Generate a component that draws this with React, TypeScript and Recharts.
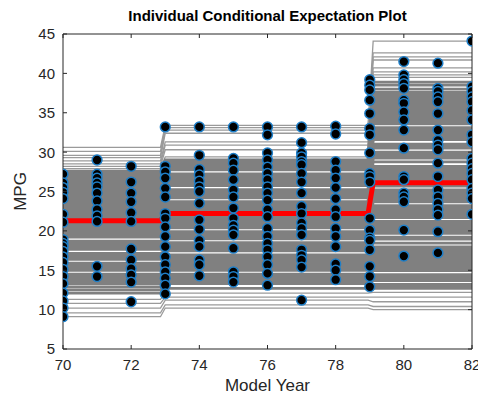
import React from 'react';
import { ComposedChart, Line, Scatter, XAxis, YAxis, ReferenceLine } from 'recharts';

// ICE evaluation grid (Model Year) and which model-year segment each grid point falls in
const iceGridX = [70, 72.86, 73.0, 78.95, 79.1, 82];
const gridSegment = [0, 0, 1, 1, 2, 2];

// ICE curve levels per observation, for the three flat segments
const iceBefore73 = [
  30.6, 30.1, 29.6, 29.3, 28.9, 28.5, 28.2, 27.9, 27.6, 27.45,
  27.3, 27.15, 27.0, 26.85, 26.7, 26.55, 26.4, 26.25, 26.1, 25.95,
  25.8, 25.65, 25.5, 25.35, 25.2, 25.05, 24.9, 24.75, 24.6, 24.45,
  24.3, 24.15, 24.0, 23.85, 23.7, 23.55, 23.4, 23.25, 23.1, 22.95,
  22.8, 22.65, 22.5, 22.35, 22.2, 22.05, 21.9, 21.75, 21.6, 21.45,
  21.3, 21.15, 21.0, 20.85, 20.7, 20.55, 20.4, 20.25, 20.1, 19.95,
  19.8, 19.65, 19.5, 19.35, 19.2, 18.7, 18.55, 18.4, 18.25, 18.1,
  17.95, 17.8, 17.65, 17.15, 17.0, 16.85, 16.7, 16.55, 16.4, 15.9,
  15.75, 15.6, 15.45, 15.3, 15.15, 15.0, 14.5, 14.35, 14.2, 14.05,
  13.9, 13.75, 13.6, 13.45, 13.3, 12.9, 12.5, 12.1, 11.3, 10.8,
  10.2, 9.6, 9.1,
];
const ice73to79 = [
  33.4, 33.1, 32.8, 32.4, 31.3, 30.9, 30.3, 29.4, 29.0, 28.8,
  28.65, 28.5, 28.35, 28.2, 28.05, 27.9, 27.75, 27.25, 27.1, 26.95,
  26.8, 26.65, 26.5, 26.35, 26.2, 26.05, 25.9, 25.75, 25.25, 25.1,
  24.95, 24.8, 24.65, 24.5, 24.35, 24.2, 23.7, 23.55, 23.4, 23.25,
  23.1, 22.95, 22.8, 22.65, 22.5, 22.35, 22.2, 22.05, 21.9, 21.75,
  21.6, 21.45, 21.3, 21.15, 21.0, 20.85, 20.7, 20.55, 20.4, 19.9,
  19.75, 19.6, 19.45, 19.3, 19.15, 19.0, 18.5, 18.35, 18.2, 18.05,
  17.9, 17.75, 17.6, 17.45, 16.95, 16.8, 16.65, 16.5, 16.35, 16.2,
  16.05, 15.9, 15.75, 15.6, 15.45, 15.3, 15.15, 15.0, 14.5, 14.35,
  14.2, 14.05, 13.9, 13.75, 13.6, 13.45, 13.3, 12.7, 12.1, 11.6,
  11.2, 10.6, 10.2,
];
const iceAfter79 = [
  44.1, 42.6, 42.1, 41.7, 40.7, 40.2, 39.8, 39.5, 38.9, 38.5,
  38.0, 37.6, 37.35, 37.1, 36.85, 36.6, 36.35, 36.1, 35.85, 35.6,
  35.35, 35.1, 34.85, 34.6, 34.35, 34.1, 33.85, 33.6, 33.1, 32.85,
  32.6, 32.35, 32.1, 31.85, 31.6, 31.0, 30.75, 30.5, 30.0, 29.75,
  29.5, 29.25, 28.75, 28.2, 27.95, 27.7, 27.45, 27.2, 26.95, 26.7,
  26.45, 26.2, 25.95, 25.7, 25.2, 24.95, 24.7, 24.45, 24.2, 23.95,
  23.7, 23.2, 22.95, 22.7, 22.45, 22.2, 21.95, 21.7, 21.2, 20.95,
  20.7, 20.45, 20.2, 19.95, 19.7, 19.2, 18.95, 18.45, 17.95, 17.7,
  17.45, 17.2, 16.95, 16.7, 16.45, 16.2, 15.95, 15.7, 15.45, 15.2,
  14.95, 14.45, 14.2, 13.95, 13.7, 13.2, 12.95, 12.7, 12.2, 11.6,
  11.0, 10.4, 10.0,
];
// Partial dependence (average of ICE curves) per segment
const averageIce = [21.3, 22.2, 26.1];

// Observations (MPG by model year)
const obsYears = [70, 71, 72, 73, 74, 75, 76, 77, 78, 79, 80, 81, 82];
const obsMpg = [
  [27.2, 26.1, 25.5, 24.9, 24.1, 22.1, 21.1, 18.9, 18.4, 18.0, 17.4, 16.7, 16.0, 15.1, 14.2, 13.3, 12.1, 11.1, 10.2, 9.1],
  [29.0, 27.2, 26.7, 26.1, 25.6, 24.8, 23.8, 22.7, 21.9, 21.2, 15.5, 14.2],
  [28.2, 26.2, 24.8, 23.7, 22.3, 21.2, 17.7, 16.3, 15.2, 14.4, 13.5, 11.0],
  [33.2, 28.2, 27.5, 26.7, 25.4, 24.3, 22.2, 21.6, 20.5, 19.3, 18.0, 16.7, 15.7, 14.8, 14.0, 13.1, 12.0],
  [33.2, 29.6, 27.8, 27.1, 26.3, 25.6, 25.0, 23.5, 21.4, 20.2, 18.8, 18.0, 16.3, 15.7, 14.3],
  [33.2, 29.2, 28.6, 27.7, 26.5, 25.2, 24.3, 22.9, 21.6, 20.7, 20.1, 19.5, 17.8, 14.8, 14.2, 13.5],
  [33.2, 32.2, 29.9, 29.0, 28.1, 27.3, 26.5, 25.6, 24.8, 23.9, 22.7, 21.8, 20.3, 19.3, 18.4, 17.6, 16.7, 15.7, 14.6, 13.1],
  [33.2, 31.2, 29.9, 29.4, 28.8, 28.4, 27.3, 26.2, 24.8, 23.1, 22.2, 21.0, 20.3, 19.5, 17.6, 16.9, 16.3, 15.4, 11.2],
  [33.3, 32.3, 28.8, 27.7, 26.7, 25.5, 24.1, 22.7, 21.8, 20.3, 19.3, 18.0, 15.8, 15.0, 13.8],
  [39.2, 38.5, 37.9, 36.6, 34.9, 33.0, 32.2, 29.9, 27.3, 26.9, 26.2, 21.6, 20.1, 19.1, 18.8, 17.6, 15.5, 14.2, 12.9],
  [41.5, 39.8, 39.2, 38.7, 38.1, 36.6, 36.2, 35.1, 34.1, 32.8, 30.5, 26.9, 26.5, 24.8, 24.3, 23.7, 20.1, 16.8],
  [41.3, 38.1, 37.7, 37.0, 36.4, 34.9, 32.8, 31.5, 30.9, 30.3, 28.6, 26.9, 25.2, 24.3, 23.5, 22.7, 22.0, 19.9, 17.2],
  [44.1, 38.3, 37.7, 37.0, 36.4, 35.3, 34.1, 32.2, 31.3, 29.2, 28.6, 27.9, 27.3, 26.5, 25.4, 24.8, 24.1, 22.1],
];

const xTicks = [70, 72, 74, 76, 78, 80, 82];
const yTicks = [5, 10, 15, 20, 25, 30, 35, 40, 45];

const title = 'Individual Conditional Expectation Plot';
const xLabel = 'Model Year';
const yLabel = 'MPG';

// ---------- layout ----------
const W = 478;
const H = 386;
const MARGIN = { top: 26, right: 14, bottom: 0, left: 0 };
const Y_AXIS_W = 55;
const X_AXIS_H = 45;
const PLOT_LEFT = MARGIN.left + Y_AXIS_W;
const PLOT_RIGHT = W - MARGIN.right;
const PLOT_TOP = MARGIN.top;
const PLOT_BOTTOM = H - MARGIN.bottom - X_AXIS_H;
const AXIS_COLOR = '#262626';
const FONT = '"Liberation Sans", Arial, Helvetica, sans-serif';
const TICK_FONT = 15;
const LABEL_FONT = 17;
const TICK_LEN = 4;
const SPARSE_TOP = 8;
const SPARSE_BOTTOM = 5;

const segLevels = [iceBefore73, ice73to79, iceAfter79];
const lineKeys = iceBefore73.map((_, i) => `ice${i}`);

const iceRows = iceGridX.map((x, j) => {
  const seg = gridSegment[j];
  const row: Record<string, number> = { x, avg: averageIce[seg] };
  lineKeys.forEach((k, i) => {
    row[k] = segLevels[seg][i];
  });
  return row;
});

const obsPoints = obsYears.flatMap((year, i) => obsMpg[i].map((mpg) => ({ x: year, y: mpg })));

const XTick = (props: any) => {
  const { x, y, payload } = props;
  return (
    <g>
      <line x1={x} x2={x} y1={PLOT_BOTTOM} y2={PLOT_BOTTOM - TICK_LEN} stroke={AXIS_COLOR} strokeWidth={1} />
      <line x1={x} x2={x} y1={PLOT_TOP} y2={PLOT_TOP + TICK_LEN} stroke={AXIS_COLOR} strokeWidth={1} />
      <text x={x} y={y} dy="0.71em" textAnchor="middle" fontSize={TICK_FONT} fontFamily={FONT} fill={AXIS_COLOR}>
        {payload.value}
      </text>
    </g>
  );
};

const YTick = (props: any) => {
  const { x, y, payload } = props;
  return (
    <g>
      <line x1={PLOT_LEFT} x2={PLOT_LEFT + TICK_LEN} y1={y} y2={y} stroke={AXIS_COLOR} strokeWidth={1} />
      <line x1={PLOT_RIGHT} x2={PLOT_RIGHT - TICK_LEN} y1={y} y2={y} stroke={AXIS_COLOR} strokeWidth={1} />
      <text x={x} y={y} dy="0.36em" textAnchor="end" fontSize={TICK_FONT} fontFamily={FONT} fill={AXIS_COLOR}>
        {payload.value}
      </text>
    </g>
  );
};

const Marker = (props: any) => {
  const { cx, cy } = props;
  if (cx == null || cy == null) return null;
  return <circle cx={cx} cy={cy} r={4.9} fill="#000000" stroke="#1f7fc8" strokeWidth={1.5} />;
};

export default function App() {
  const plotCx = (PLOT_LEFT + PLOT_RIGHT) / 2;
  const plotCy = (PLOT_TOP + PLOT_BOTTOM) / 2;
  const n = lineKeys.length;
  return (
    <div style={{ position: 'relative', width: W, height: H }}>
      <ComposedChart width={W} height={H} data={iceRows} margin={MARGIN}>
        <XAxis
          type="number"
          dataKey="x"
          domain={[70, 82]}
          ticks={xTicks}
          interval={0}
          allowDataOverflow
          tickSize={0}
          tickMargin={10}
          tick={XTick}
          tickLine={false}
          axisLine={{ stroke: AXIS_COLOR, strokeWidth: 1 }}
          height={X_AXIS_H}
        />
        <YAxis
          type="number"
          domain={[5, 45]}
          ticks={yTicks}
          interval={0}
          allowDataOverflow
          tickSize={0}
          tickMargin={8}
          tick={YTick}
          tickLine={false}
          axisLine={{ stroke: AXIS_COLOR, strokeWidth: 1 }}
          width={Y_AXIS_W}
        />
        {lineKeys.map((k, i) => {
          const sparse = i < SPARSE_TOP || i >= n - SPARSE_BOTTOM;
          return (
            <Line
              key={k}
              dataKey={k}
              type="linear"
              stroke={sparse ? '#9a9a9a' : '#808080'}
              strokeWidth={sparse ? 1.3 : 2.8}
              dot={false}
              activeDot={false}
              isAnimationActive={false}
            />
          );
        })}
        <Line
          dataKey="avg"
          type="linear"
          stroke="#ff0000"
          strokeWidth={5}
          dot={false}
          activeDot={false}
          isAnimationActive={false}
        />
        <Scatter data={obsPoints} dataKey="y" shape={Marker} isAnimationActive={false} />
        <ReferenceLine y={45} stroke={AXIS_COLOR} strokeWidth={1} />
        <ReferenceLine x={82} stroke={AXIS_COLOR} strokeWidth={1} />
      </ComposedChart>
      <svg
        width={W}
        height={H}
        style={{ position: 'absolute', left: 0, top: 0, pointerEvents: 'none' }}
      >
        <text x={plotCx} y={13} textAnchor="middle" fontSize={15} fontWeight="bold" fontFamily={FONT} fill="#000">
          {title}
        </text>
        <text x={plotCx} y={383} textAnchor="middle" fontSize={LABEL_FONT} fontFamily={FONT} fill={AXIS_COLOR}>
          {xLabel}
        </text>
        <text
          x={12}
          y={plotCy}
          dy="0.36em"
          textAnchor="middle"
          fontSize={LABEL_FONT}
          fontFamily={FONT}
          fill={AXIS_COLOR}
          transform={`rotate(-90, 12, ${plotCy})`}
        >
          {yLabel}
        </text>
      </svg>
    </div>
  );
}
